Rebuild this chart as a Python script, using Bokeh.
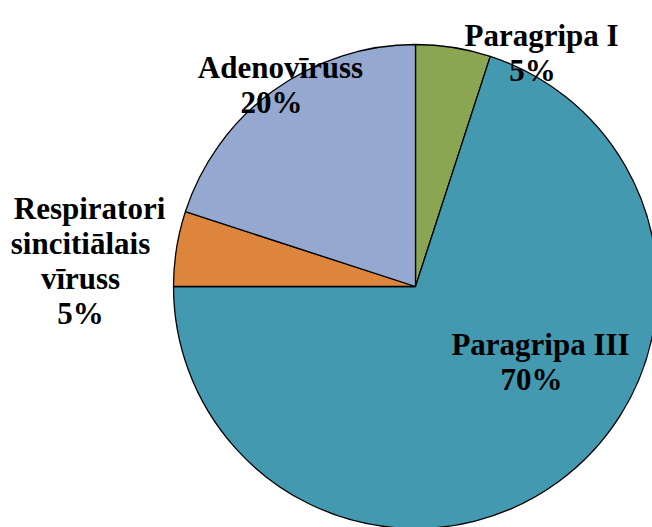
import math
from bokeh.plotting import figure
from bokeh.models import Range1d, ColumnDataSource
from bokeh.core.properties import value
from bokeh.embed import file_html
from bokeh.resources import INLINE

# ---- data ----
categories = ["Paragripa I", "Paragripa III", "Respiratori\nsincitiālais\nvīruss", "Adenovīruss"]
values = [5, 70, 5, 20]
colors = ["#8AA653", "#4399B0", "#DD843D", "#94A8D0"]

# ---- layout (pixel coordinates) ----
W, H = 652, 527
cx, cy, R = 415, 286, 242
label_anchor = [(541, 35), (540, 344), (89, 208), (280, 67)]  # (center x, first baseline)
LINE = 35
FONT = "31px"

p = figure(width=W, height=H, output_backend="svg", toolbar_location=None,
           x_range=Range1d(0, W), y_range=Range1d(-H, 0),
           min_border=0, min_border_left=0, min_border_right=0,
           min_border_top=0, min_border_bottom=0)
p.axis.visible = False
p.grid.visible = False
p.outline_line_color = None
p.background_fill_color = "white"
p.border_fill_color = "white"

total = sum(values)
starts, ends = [], []
cum = 0.0
for v in values:
    a0 = cum / total
    cum += v
    a1 = cum / total
    starts.append(math.pi / 2 - 2 * math.pi * a1)
    ends.append(math.pi / 2 - 2 * math.pi * a0)

src = ColumnDataSource(dict(start=starts, end=ends, color=colors,
                            x=[cx] * len(values), y=[-cy] * len(values)))
p.wedge(x="x", y="y", radius=R, start_angle="start", end_angle="end",
        fill_color="color", line_color="black", line_width=1.3, source=src)

tx, ty, tt = [], [], []
for cat, v, (ax, ay) in zip(categories, values, label_anchor):
    lines = cat.split("\n") + [f"{v / total * 100:.0f}%"]
    for i, ln in enumerate(lines):
        tx.append(ax if i == 0 else ax - 9)
        ty.append(-(ay + i * LINE))
        tt.append(ln)

p.text(x=tx, y=ty, text=tt, text_align="center", text_baseline="alphabetic",
       text_font=value("Liberation Serif"), text_font_style="bold",
       text_font_size=FONT, text_color="black")

open("out.html", "w").write(file_html(p, INLINE))
